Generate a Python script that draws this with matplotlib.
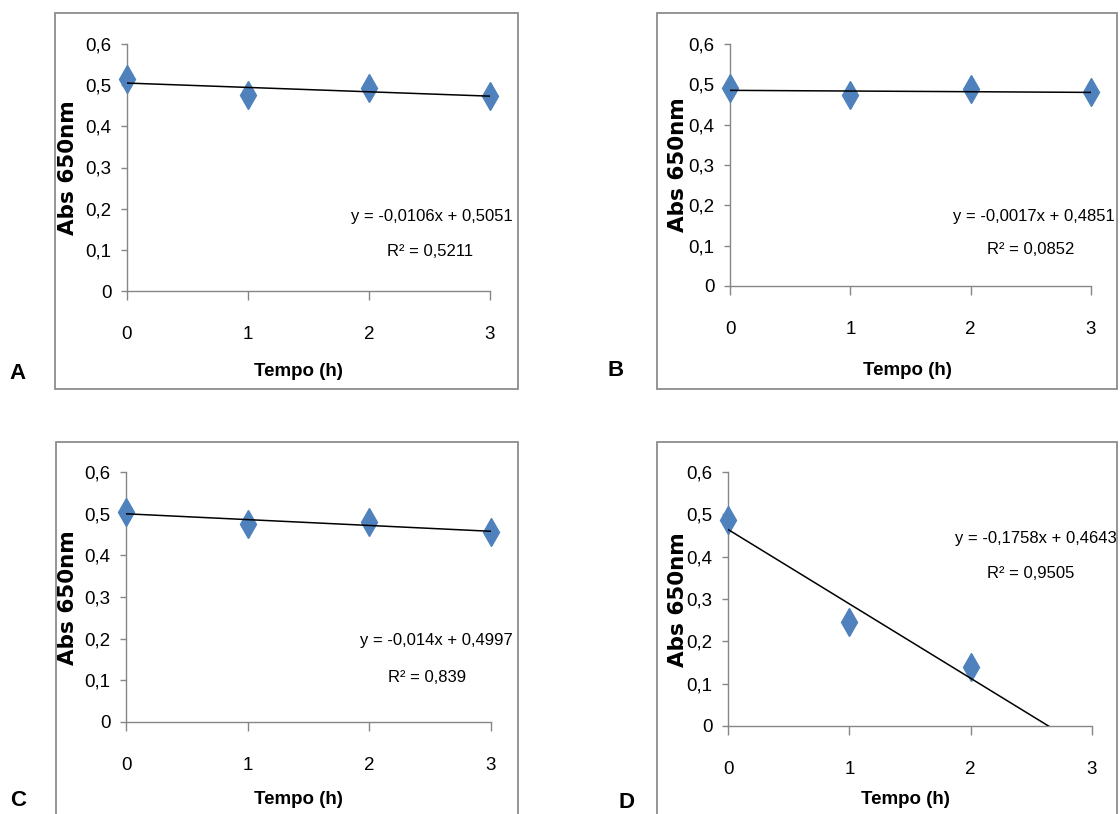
import matplotlib
matplotlib.use("Agg")
import matplotlib.pyplot as plt
from matplotlib.patches import Rectangle

W, H = 1120, 814

# dados
tempo = [0, 1, 2, 3]
tempo_D = [0, 1, 2]
abs_A = [0.515, 0.475, 0.492, 0.474]
abs_B = [0.490, 0.473, 0.488, 0.480]
abs_C = [0.503, 0.475, 0.480, 0.457]
abs_D = [0.487, 0.245, 0.140]
err_A = [0.010, 0.012, 0.010, 0.008]
err_B = [0.010, 0.008, 0.010, 0.008]
err_C = [0.008, 0.010, 0.010, 0.008]
err_D = [0.008, 0.010, 0.010]

slopes = [-0.0106, -0.0017, -0.014, -0.1758]
intercepts = [0.5051, 0.4851, 0.4997, 0.4643]
eq_txt = ["y = -0,0106x + 0,5051", "y = -0,0017x + 0,4851",
          "y = -0,014x + 0,4997", "y = -0,1758x + 0,4643"]
r2_txt = ["R² = 0,5211", "R² = 0,0852", "R² = 0,839", "R² = 0,9505"]
letters = ["A", "B", "C", "D"]

yticks = [0, 0.1, 0.2, 0.3, 0.4, 0.5, 0.6]
ytick_labels = ["0", "0,1", "0,2", "0,3", "0,4", "0,5", "0,6"]
xtick_labels = ["0", "1", "2", "3"]

xs = [tempo, tempo, tempo, tempo_D]
ys = [abs_A, abs_B, abs_C, abs_D]
errs = [err_A, err_B, err_C, err_D]

# posições em pixels (esq, topo, dir, base)
axes_px = [(127, 44, 490, 291), (730, 44, 1091, 286),
           (126, 472, 491, 722), (728, 472, 1092, 726)]
frame_px = [(55, 13, 518, 389), (657, 13, 1117, 389),
            (56, 442, 518, 840), (657, 442, 1117, 840)]
letter_px = [(18, 373), (616, 371), (18, 800), (626, 802)]
xlabel_px = [(298, 372), (907, 370), (298, 800), (905, 800)]
ylabel_px = [(68, 168), (678, 165), (68, 598), (678, 600)]
eq_px = [(513, 216, 430, 252), (1115, 216, 1031, 250),
         (513, 641, 427, 677), (1117, 538, 1031, 573)]

font = "Liberation Sans"
grey = "#868686"
blue = "#4F81BD"

fig = plt.figure(figsize=(W / 100, H / 100), dpi=100)

for i in range(4):
    l, t, r, b = axes_px[i]
    ax = fig.add_axes([l / W, 1 - b / H, (r - l) / W, (b - t) / H])

    fl, ft, fr, fb = frame_px[i]
    fig.add_artist(Rectangle((fl / W, 1 - fb / H), (fr - fl) / W, (fb - ft) / H,
                             transform=fig.transFigure, fill=False,
                             edgecolor="#8c8c8c", lw=1.3, clip_on=False))

    ax.errorbar(xs[i], ys[i], yerr=errs[i], fmt="d", color=blue, ms=14,
                ecolor=blue, elinewidth=1, capsize=0, zorder=3, clip_on=False)
    line_y = [intercepts[i] + slopes[i] * x for x in tempo]
    ax.plot(tempo, line_y, color="black", lw=1.1, zorder=4)

    ax.set_xlim(0, 3)
    ax.set_ylim(0, 0.6)
    ax.set_xticks(tempo)
    ax.set_xticklabels(xtick_labels, fontfamily=font, fontsize=13.5)
    ax.set_yticks(yticks)
    ax.set_yticklabels(ytick_labels, fontfamily=font, fontsize=13.5)
    ax.tick_params(axis="x", length=6.5, width=1, color=grey, pad=19)
    ax.tick_params(axis="y", length=4.3, width=1, color=grey, pad=7)
    for s in ["top", "right"]:
        ax.spines[s].set_visible(False)
    for s in ["left", "bottom"]:
        ax.spines[s].set_color(grey)
        ax.spines[s].set_linewidth(1)

    # equação da linha de tendência
    ex, ey, rx, ry = eq_px[i]
    fig.text(ex / W, 1 - ey / H, eq_txt[i], ha="right", va="center",
             fontfamily=font, fontsize=12)
    fig.text(rx / W, 1 - ry / H, r2_txt[i], ha="center", va="center",
             fontfamily=font, fontsize=12)

    x0, y0 = xlabel_px[i]
    fig.text(x0 / W, 1 - y0 / H, "Tempo (h)", ha="center", va="center",
             fontfamily=font, fontweight="bold", fontsize=13.5)
    x0, y0 = ylabel_px[i]
    fig.text(x0 / W, 1 - y0 / H, "Abs 650nm", ha="center", va="center",
             rotation=90, fontfamily="DejaVu Sans", fontweight="bold", fontsize=15.5)
    x0, y0 = letter_px[i]
    fig.text(x0 / W, 1 - y0 / H, letters[i], ha="center", va="center",
             fontfamily=font, fontweight="bold", fontsize=16)

fig.savefig("out.png", dpi=100)
